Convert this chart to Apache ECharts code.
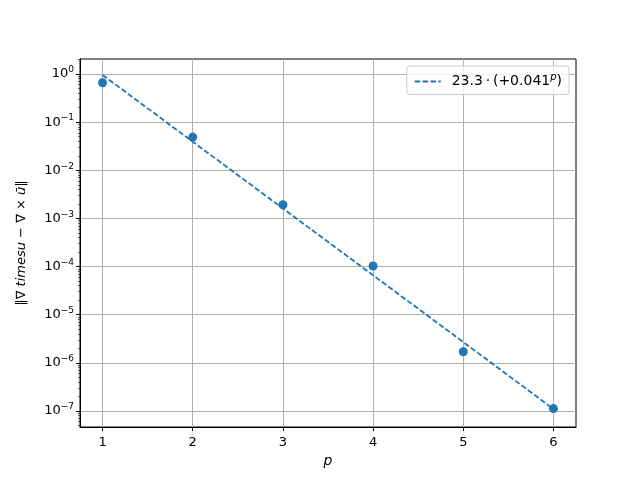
<!DOCTYPE html>
<html>
<head>
<meta charset="utf-8">
<script src="https://cdn.jsdelivr.net/npm/echarts@6/dist/echarts.min.js"></script>
<style>html,body{margin:0;padding:0;background:#fff}#c{width:640px;height:480px}</style>
</head>
<body>
<div id="c"></div>
<script>
// Data
const pValues = [1, 2, 3, 4, 5, 6];
const errorValues = [0.66, 0.049, 0.00192, 1.03e-4, 1.7e-6, 1.12e-7];
const fitValues = [0.955, 0.0392, 0.00161, 6.6e-5, 2.7e-6, 1.1e-7];
const fitLabel = '23.3·(+0.041^p)';
const xTicks = [1, 2, 3, 4, 5, 6];
const yMajorTicks = [1e-7, 1e-6, 1e-5, 1e-4, 1e-3, 1e-2, 1e-1, 1e0];
const yMinorTicks = [];
for (let e = -8; e <= 0; e++) {
  for (let m = 2; m <= 9; m++) {
    const v = m * Math.pow(10, e);
    if (v > 4.65e-8 && v < 2.05) yMinorTicks.push(v);
  }
}

const blue = '#1f77b4';
const font = 'DejaVu Sans';

function supLabel(v) {
  const e = Math.round(Math.log10(v));
  const s = e < 0 ? '\u2212' + (-e) : String(e);
  return '{b|10}{s|' + s + '}';
}

const chart = echarts.init(document.getElementById('c'), null, {renderer: 'canvas'});
chart.setOption({
  animation: false,
  backgroundColor: '#fff',
  grid: {left: 80, right: 64, top: 59, bottom: 53, show: true, borderColor: '#000', borderWidth: 1, containLabel: false},
  legend: {
    right: 71, top: 66,
    orient: 'vertical',
    data: [{name: fitLabel}],
    backgroundColor: 'rgba(255,255,255,0.8)',
    borderColor: '#cccccc', borderWidth: 1, borderRadius: 3,
    padding: [6, 7, 6, 7],
    itemWidth: 26, itemHeight: 12, itemGap: 5,
    itemStyle: {opacity: 0, color: 'transparent', borderWidth: 0},
    lineStyle: {width: 1.8},
    formatter: function () { return '{t|23.3\u2009·\u2009(+0.041}{s|p}{t|)}'; },
    textStyle: {
      fontFamily: font, fontSize: 14, color: '#000', padding: [0, 0, 0, 6],
      rich: {
        t: {fontFamily: font, fontSize: 14, color: '#000'},
        s: {fontFamily: font, fontSize: 10, fontStyle: 'italic', color: '#000', padding: [0, 0, 9, 0]}
      }
    }
  },
  xAxis: [{
    type: 'value', min: 0.75, max: 6.25,
    name: 'p', nameLocation: 'middle', nameGap: 27,
    nameTextStyle: {fontFamily: font, fontSize: 14, fontStyle: 'italic', color: '#000'},
    axisLine: {show: true, onZero: false, lineStyle: {color: '#000', width: 1}},
    axisTick: {show: true, inside: false, length: 4, lineStyle: {color: '#000'}, customValues: xTicks},
    axisLabel: {customValues: xTicks, fontFamily: font, fontSize: 13, color: '#000', margin: 9, showMinLabel: true, showMaxLabel: true},
    splitLine: {show: true, lineStyle: {color: '#b0b0b0', width: 1}}
  }],
  yAxis: [{
    type: 'log', logBase: 10, min: 4.65e-8, max: 2.05,
    name: '{n|‖∇ }{i|timesu}{n| − ∇ × }{i|ū}{n|‖}',
    nameLocation: 'middle', nameGap: 52, nameRotate: 90,
    nameTextStyle: {
      fontFamily: font, fontSize: 13, color: '#000',
      rich: {
        n: {fontFamily: font, fontSize: 13, color: '#000'},
        i: {fontFamily: font, fontSize: 13, fontStyle: 'italic', color: '#000'}
      }
    },
    axisLine: {show: true, onZero: false, lineStyle: {color: '#000', width: 1}},
    axisTick: {show: true, inside: false, length: 4, lineStyle: {color: '#000'}, customValues: yMajorTicks},
    axisLabel: {
      customValues: yMajorTicks,
      formatter: supLabel,
      margin: 6,
      rich: {
        b: {fontFamily: font, fontSize: 13, color: '#000'},
        s: {fontFamily: font, fontSize: 9, color: '#000', padding: [0, 0, 8, 0]}
      }
    },
    splitLine: {show: true, lineStyle: {color: '#b0b0b0', width: 1}}
  }, {
    type: 'log', logBase: 10, min: 4.65e-8, max: 2.05,
    position: 'left', offset: 0,
    axisLine: {show: false},
    axisTick: {show: true, inside: false, length: 2, lineStyle: {color: '#000', width: 0.6}, customValues: yMinorTicks},
    axisLabel: {show: false},
    splitLine: {show: false}
  }],
  series: [{
    name: fitLabel,
    type: 'line',
    data: pValues.map((p, i) => [p, fitValues[i]]),
    showSymbol: false, symbol: 'none',
    lineStyle: {color: blue, width: 1.8, type: [5.5, 2.4]},
    itemStyle: {color: blue},
    z: 3
  }, {
    name: 'data',
    type: 'scatter',
    data: pValues.map((p, i) => [p, errorValues[i]]),
    symbolSize: 9,
    itemStyle: {color: blue, opacity: 1},
    z: 4
  }]
});
</script>
</body>
</html>
